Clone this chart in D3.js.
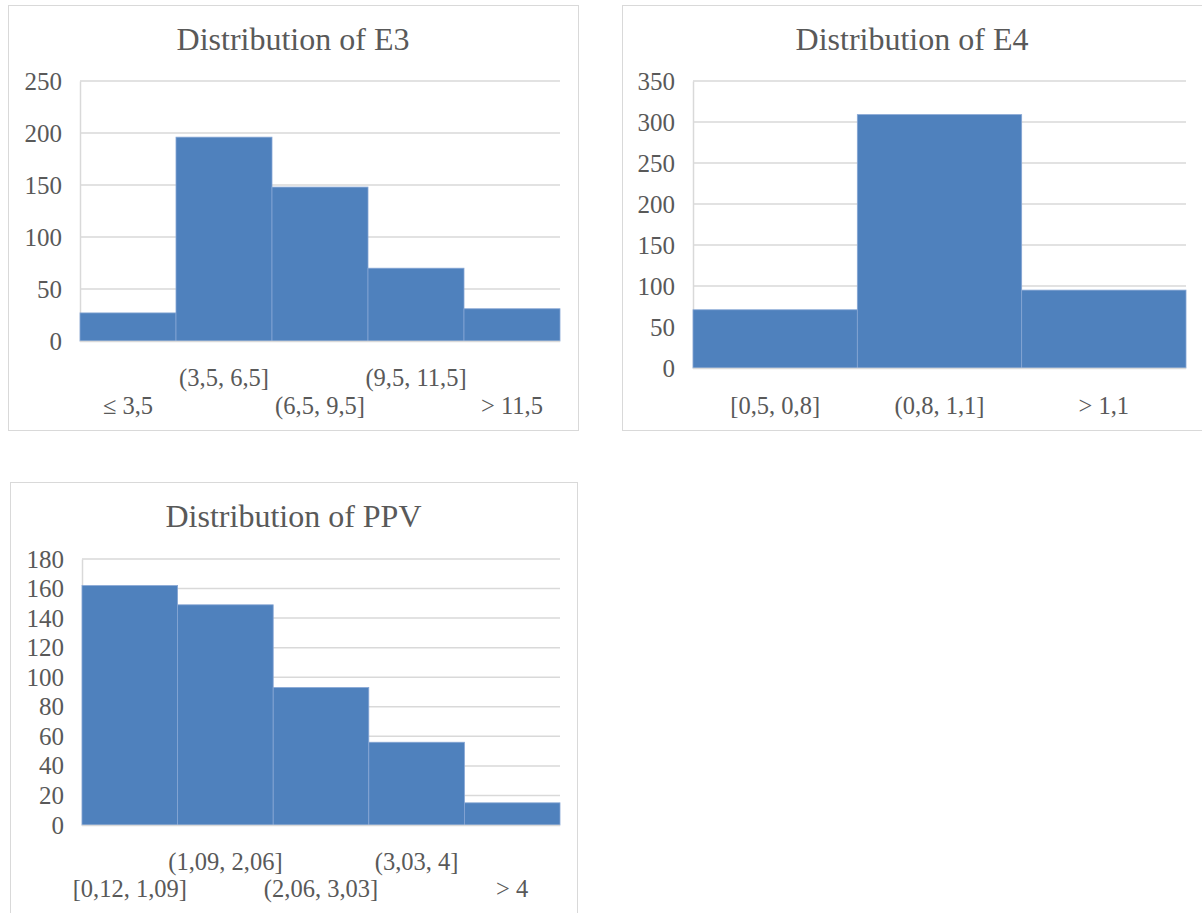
<!DOCTYPE html>
<html>
<head>
<meta charset="utf-8">
<script src="https://cdn.jsdelivr.net/npm/d3@7"></script>
<style>
  body { margin: 0; background: #fff; }
  svg text { font-family: "Liberation Serif", "Times New Roman", serif; fill: #595959; }
</style>
</head>
<body>
<script>
// DATA
var e3Bins = ['≤ 3,5', '(3,5, 6,5]', '(6,5, 9,5]', '(9,5, 11,5]', '> 11,5'];
var e3Counts = [27, 196, 148, 70, 31];
var e3Ticks = [0, 50, 100, 150, 200, 250];

var e4Bins = ['[0,5, 0,8]', '(0,8, 1,1]', '> 1,1'];
var e4Counts = [71, 309, 95];
var e4Ticks = [0, 50, 100, 150, 200, 250, 300, 350];

var ppvBins = ['[0,12, 1,09]', '(1,09, 2,06]', '(2,06, 3,03]', '(3,03, 4]', '> 4'];
var ppvCounts = [162, 149, 93, 56, 15];
var ppvTicks = [0, 20, 40, 60, 80, 100, 120, 140, 160, 180];

var svg = d3.select('body').append('svg')
    .attr('width', 1202)
    .attr('height', 913);

function drawChart(opts) {
    var g = svg.append('g'),
        x, y;

    // frame
    g.append('rect')
        .attr('x', opts.frame[0] + 0.5)
        .attr('y', opts.frame[1] + 0.5)
        .attr('width', opts.frame[2])
        .attr('height', opts.frame[3])
        .attr('fill', '#fff')
        .attr('stroke', '#d9d9d9');

    g.append('text')
        .attr('x', opts.frame[0] + opts.frame[2] / 2)
        .attr('y', opts.titleY)
        .attr('dy', '0.35em')
        .attr('text-anchor', 'middle')
        .style('font-size', '32px')
        .text(opts.title);

    x = d3.scaleBand().domain(opts.bins).range([opts.left, opts.right]).padding(0);
    y = d3.scaleLinear().domain([0, d3.max(opts.ticks)]).range([opts.bottom, opts.top]);

    // gridlines
    g.append('g').selectAll('line').data(opts.ticks.slice(1)).enter().append('line')
        .attr('x1', opts.left)
        .attr('x2', opts.right)
        .attr('y1', function (d) { return y(d); })
        .attr('y2', function (d) { return y(d); })
        .attr('stroke', '#d9d9d9')
        .attr('stroke-width', 1.5);

    // y axis
    var ya = g.append('g')
        .attr('transform', 'translate(' + opts.left + ',0)')
        .call(d3.axisLeft(y).tickValues(opts.ticks).tickSize(0).tickPadding(18));
    ya.select('.domain').attr('stroke', '#d9d9d9').attr('stroke-width', 1.5);
    ya.selectAll('text').style('font-size', '25px').attr('fill', '#595959');

    // bars
    g.append('g').selectAll('rect').data(opts.counts).enter().append('rect')
        .attr('x', function (d, i) { return x(opts.bins[i]); })
        .attr('y', function (d) { return y(d); })
        .attr('width', x.bandwidth())
        .attr('height', function (d) { return opts.bottom - y(d); })
        .attr('fill', '#4f81bd')
        .attr('stroke', '#86a6d4')
        .attr('stroke-width', 0.8);

    // baseline
    g.append('line')
        .attr('x1', opts.left).attr('x2', opts.right)
        .attr('y1', opts.bottom + 0.5).attr('y2', opts.bottom + 0.5)
        .attr('stroke', '#d9d9d9')
        .attr('stroke-width', 1.5);

    // x labels, staggered when there are several rows
    var xa = g.append('g')
        .attr('transform', 'translate(0,' + opts.bottom + ')')
        .call(d3.axisBottom(x).tickSize(0));
    xa.select('.domain').remove();
    xa.selectAll('text')
        .style('font-size', '24.5px')
        .attr('fill', '#595959')
        .attr('y', 0)
        .attr('dy', '0.35em')
        .attr('transform', function (d, i) {
            var row = opts.rows[i % opts.rows.length];
            return 'translate(0,' + row + ')';
        });
}

drawChart({
    title: 'Distribution of E3',
    bins: e3Bins, counts: e3Counts, ticks: e3Ticks,
    frame: [8, 5, 570, 425], titleY: 39,
    left: 80, right: 560, top: 81, bottom: 341,
    rows: [64, 36]
});

drawChart({
    title: 'Distribution of E4',
    bins: e4Bins, counts: e4Counts, ticks: e4Ticks,
    frame: [622, 5, 580, 425], titleY: 39,
    left: 693, right: 1186, top: 81, bottom: 368,
    rows: [37]
});

drawChart({
    title: 'Distribution of PPV',
    bins: ppvBins, counts: ppvCounts, ticks: ppvTicks,
    frame: [10, 482, 567, 440], titleY: 516,
    left: 82, right: 560, top: 559, bottom: 825,
    rows: [63, 36]
});
</script>
</body>
</html>
